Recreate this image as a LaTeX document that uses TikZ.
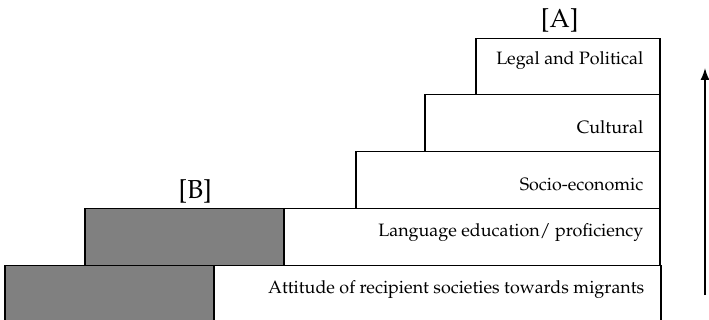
\documentclass[tikz,border=0pt]{standalone}
\usepackage[T1]{fontenc}
\usepackage{mathpazo}
\usetikzlibrary{positioning, arrows.meta}
\tikzset{
  >={Latex[length=12pt, width=9pt]},
  tier/.style={draw, line width=1.5pt, fill=white, anchor=north west, inner sep=0pt},
  darktier/.style={tier, fill=black!50},
  tiertext/.style={font=\fontsize{17.9}{22}\selectfont, inner sep=0pt, anchor=base east},
  tag/.style={font=\fontsize{26}{30}\selectfont, inner sep=0pt},
}

\begin{document}
\begin{tikzpicture}[x=1pt, y=-1pt]
    \useasboundingbox (0,0) rectangle (709,320);
    \clip (0,0) rectangle (709,320);

    % tiers
    \node[tier, minimum width=656pt, minimum height=70pt] (attitude) at (4,265) {};
    \node[darktier, minimum width=209pt, minimum height=70pt] (attgrey) at (4,265) {};
    \node[tier, minimum width=575pt, minimum height=57pt] (language) at (84,208) {};
    \node[darktier, minimum width=199pt, minimum height=57pt] (langgrey) at (84,208) {};
    \node[tier, minimum width=304pt, minimum height=57pt] (socio) at (355,151) {};
    \node[tier, minimum width=235pt, minimum height=57pt] (cultural) at (424,94) {};
    \node[tier, minimum width=184pt, minimum height=56pt] (legal) at (475,38) {};

    % texts
    \node[tiertext] (legaltxt) at ([shift={(-17,27)}]legal.north east) {Legal and Political};
    \node[tiertext] (culturaltxt) at ([shift={(-17,40)}]cultural.north east) {Cultural};
    \node[tiertext] (sociotxt) at ([shift={(-17,40)}]socio.north east) {Socio-economic};
    \node[tiertext] (languagetxt) at ([shift={(-17,29)}]language.north east) {Language education/ proficiency};
    \node[tiertext] (attitudetxt) at ([shift={(-17,28)}]attitude.north east) {Attitude of recipient societies towards migrants};

    % tags
    \node[tag, above=5pt of legal, xshift=-8pt] (tagA) {[A]};
    \node[tag, above=4pt of langgrey, xshift=11pt] (tagB) {[B]};

    % arrow
    \coordinate (arrowfoot) at (705,295);
    \coordinate (arrowtip) at (705,68);
    \draw[->, line width=1.5pt] (arrowfoot) -- (arrowtip);
\end{tikzpicture}
\end{document}
